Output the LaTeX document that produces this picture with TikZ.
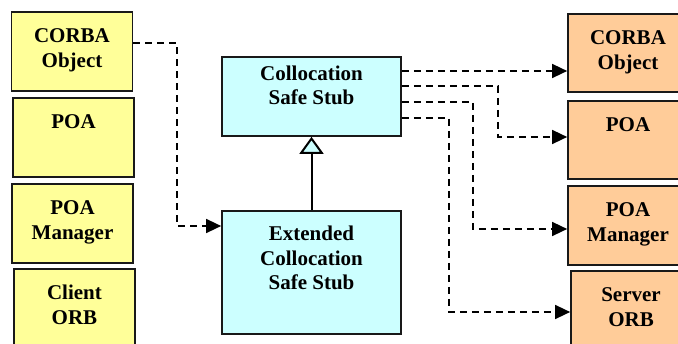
\documentclass[tikz,border=0pt]{standalone}
\usepackage{fontspec}
\setmainfont{Liberation Serif}
\usetikzlibrary{arrows.meta,calc}
\definecolor{yel}{HTML}{FFFF99}
\definecolor{cya}{HTML}{CCFFFF}
\definecolor{ora}{HTML}{FFCC99}
\tikzset{
  box/.style={draw=black!90, line width=1.7pt, minimum width=121pt, minimum height=79pt, inner sep=0pt},
  lbl/.style={font=\bfseries\fontsize{21}{24.5}\selectfont, align=center, anchor=base, inner sep=0pt},
  dep/.style={draw=black, line width=1.5pt, dash pattern=on 7pt off 5pt, -{Triangle[length=15pt,width=14pt]}},
  inh/.style={draw=black, line width=2pt, -{Triangle[length=17pt,width=24pt,fill=cya]}}
}
\begin{document}
\begin{tikzpicture}[x=1pt,y=-1pt]
\useasboundingbox (0,0) rectangle (678,344);
\clip (0,0) rectangle (678,344);
% left column
\node[box, fill=yel] (lco) at (72,51.5) {};
\node[box, fill=yel] (lpoa) at (73.5,137.5) {};
\node[box, fill=yel] (lpm) at (72.5,223.5) {};
\node[box, fill=yel] (lorb) at (74.5,308.5) {};
\node[lbl] (tlco) at (72,67.5) {CORBA\\Object};
\node[lbl] (tlpoa) at (73.5,129) {POA};
\node[lbl] (tlpm) at (72.5,239.5) {POA\\Manager};
\node[lbl] (tlorb) at (74.5,324.5) {Client\\ORB};
% centre
\node[box, fill=cya, minimum width=179pt, minimum height=79pt] (css) at (311.5,96.5) {};
\node[box, fill=cya, minimum width=179pt, minimum height=123pt] (ecss) at (311.5,272.5) {};
\node[lbl] (tcss) at (311.5,105) {Collocation\\Safe Stub};
\node[lbl] (tecss) at (311.5,290) {Extended\\Collocation\\Safe Stub};
% right column
\node[box, fill=ora, minimum width=120pt, minimum height=78pt] (rco) at (628,53) {};
\node[box, fill=ora, minimum width=120pt, minimum height=78pt] (rpoa) at (628,140) {};
\node[box, fill=ora, minimum width=120pt, minimum height=79pt] (rpm) at (628,225.5) {};
\node[box, fill=ora, minimum width=120pt, minimum height=79pt] (rorb) at (631,310.5) {};
\node[lbl] (trco) at (628,69.5) {CORBA\\Object};
\node[lbl] (trpoa) at (628,132) {POA};
\node[lbl] (trpm) at (628,241.5) {POA\\Manager};
\node[lbl] (trorb) at (631,326.5) {Server\\ORB};
% connectors
\coordinate (a1) at (177,43);
\coordinate (a2) at (177,226);
\draw[dep] (lco.east |- a1) -- (a1) -- (a2) -- (ecss.west |- a2);
\coordinate (b1) at (401,71);
\draw[dep] (css.east |- b1) -- (rco.west |- b1);
\coordinate (c1) at (498,86);
\coordinate (c2) at (498,137);
\draw[dep] (css.east |- c1) -- (c1) -- (c2) -- (rpoa.west |- c2);
\coordinate (d1) at (473,102);
\coordinate (d2) at (473,229);
\draw[dep] (css.east |- d1) -- (d1) -- (d2) -- (rpm.west |- d2);
\coordinate (e1) at (449,118);
\coordinate (e2) at (449,312);
\draw[dep] (css.east |- e1) -- (e1) -- (e2) -- (rorb.west |- e2);
\draw[inh] (ecss.north) -- (css.south);
\end{tikzpicture}
\end{document}
